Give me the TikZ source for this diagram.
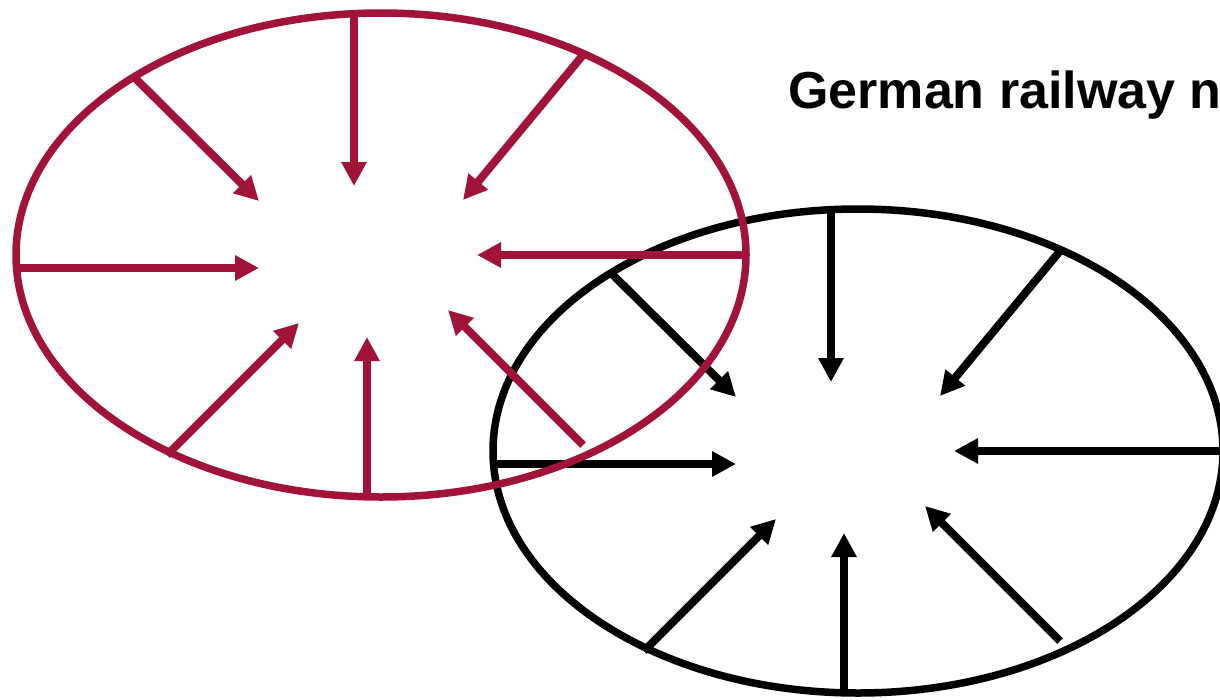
\documentclass[tikz,border=0pt]{standalone}
\usepackage{fontspec}
\setmainfont{Liberation Sans}
\usetikzlibrary{arrows.meta,shapes.geometric}
\definecolor{wine}{RGB}{161,19,56}
\tikzset{
  ring/.style={line width=7.5pt},
  ray/.style={line width=8pt,-{Triangle[length=24pt,width=24pt]}},
  title/.style={font=\fontsize{52pt}{56pt}\selectfont\bfseries,anchor=base west,inner sep=0pt}
}
\newcommand{\wheel}[1]{%
  \node[ring,draw,ellipse,minimum width=730pt,minimum height=484pt,inner sep=0pt] (#1) at (0,0) {};
  \coordinate (#1s1) at (-27,-242); \coordinate (#1e1) at (-27,-69);
  \coordinate (#1s2) at (-246,-177); \coordinate (#1e2) at (-122,-54);
  \coordinate (#1s3) at (202,-200); \coordinate (#1e3) at (82,-55);
  \coordinate (#1s4) at (-365,13); \coordinate (#1e4) at (-122,13);
  \coordinate (#1s5) at (365,0); \coordinate (#1e5) at (96,0);
  \coordinate (#1s6) at (-214,200); \coordinate (#1e6) at (-82,68);
  \coordinate (#1s7) at (-14,242); \coordinate (#1e7) at (-14,82);
  \coordinate (#1s8) at (202,190); \coordinate (#1e8) at (67,55);
  \foreach \k in {1,...,8} {\draw[ray] (#1s\k) -- (#1e\k);}
}
\begin{document}
\begin{tikzpicture}[x=1pt,y=-1pt]
\useasboundingbox (0,0) rectangle (1220,699);
\begin{scope}[shift={(858,451)},draw=black,fill=black,black]
\wheel{B}
\end{scope}
\begin{scope}[shift={(381,255)},draw=wine,fill=wine,wine]
\wheel{R}
\end{scope}
\node[title] (T) at (788,108) {German railway n};
\end{tikzpicture}
\end{document}
